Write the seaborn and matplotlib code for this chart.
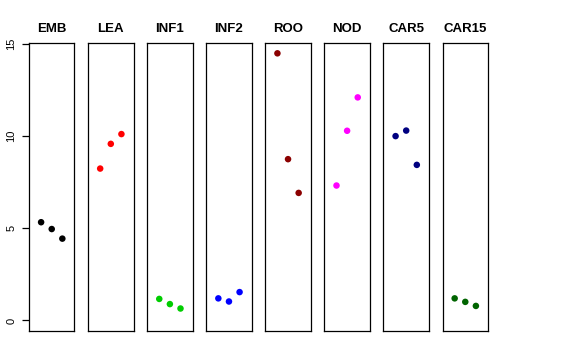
import matplotlib
matplotlib.use("Agg")
import matplotlib.pyplot as plt
import seaborn as sns
import pandas as pd

tissues = ["EMB", "LEA", "INF1", "INF2", "ROO", "NOD", "CAR5", "CAR15"]
colores = ["#000000", "#FF0000", "#00CD00", "#0000FF", "#8B0000", "#FF00FF", "#000080", "#006400"]
reps = [1, 2, 3]

emb = [5.33, 4.96, 4.44]
lea = [8.24, 9.58, 10.11]
inf1 = [1.17, 0.89, 0.65]
inf2 = [1.20, 1.03, 1.54]
roo = [14.49, 8.75, 6.92]
nod = [7.32, 10.29, 12.10]
car5 = [10.00, 10.30, 8.44]
car15 = [1.20, 1.01, 0.79]

valores = [emb, lea, inf1, inf2, roo, nod, car5, car15]

filas = []
for t, vals in zip(tissues, valores):
    for r, v in zip(reps, vals):
        filas.append({"tissue": t, "rep": r, "value": v})
df = pd.DataFrame(filas)

sns.set_style("white")
plt.rcParams["font.family"] = ["Liberation Sans", "DejaVu Sans"]
plt.rcParams["text.color"] = "black"
plt.rcParams["ytick.color"] = "black"
plt.rcParams["xtick.color"] = "black"
plt.rcParams["axes.labelcolor"] = "black"

fig, axes = plt.subplots(1, 8, figsize=(5.76, 3.6), dpi=100, sharey=True)
fig.subplots_adjust(left=29 / 576, right=488 / 576, bottom=1 - 331 / 360, top=1 - 43 / 360, wspace=0.30)

for i, (ax, t, c) in enumerate(zip(axes, tissues, colores)):
    sub = df[df["tissue"] == t]
    sns.scatterplot(data=sub, x="rep", y="value", color=c, s=22, edgecolor="none", ax=ax, legend=False)
    ax.set_xlim(-0.14, 4.14)
    ax.set_ylim(-0.57, 15.05)
    ax.set_title(t, fontsize=9.5, fontweight="bold", pad=8, color="black")
    ax.set_xlabel("")
    ax.set_ylabel("")
    ax.set_xticks([])
    for sp in ax.spines.values():
        sp.set_visible(True)
        sp.set_color("black")
        sp.set_linewidth(0.9)
    if i == 0:
        ax.set_yticks([0, 5, 10, 15])
        ax.tick_params(axis="y", left=True, length=5, width=0.9, labelsize=8, pad=4, colors="black")
        for lab in ax.get_yticklabels():
            lab.set_rotation(90)
            lab.set_va("center")
    else:
        ax.tick_params(axis="y", left=False)

fig.savefig("out.png", dpi=100)
